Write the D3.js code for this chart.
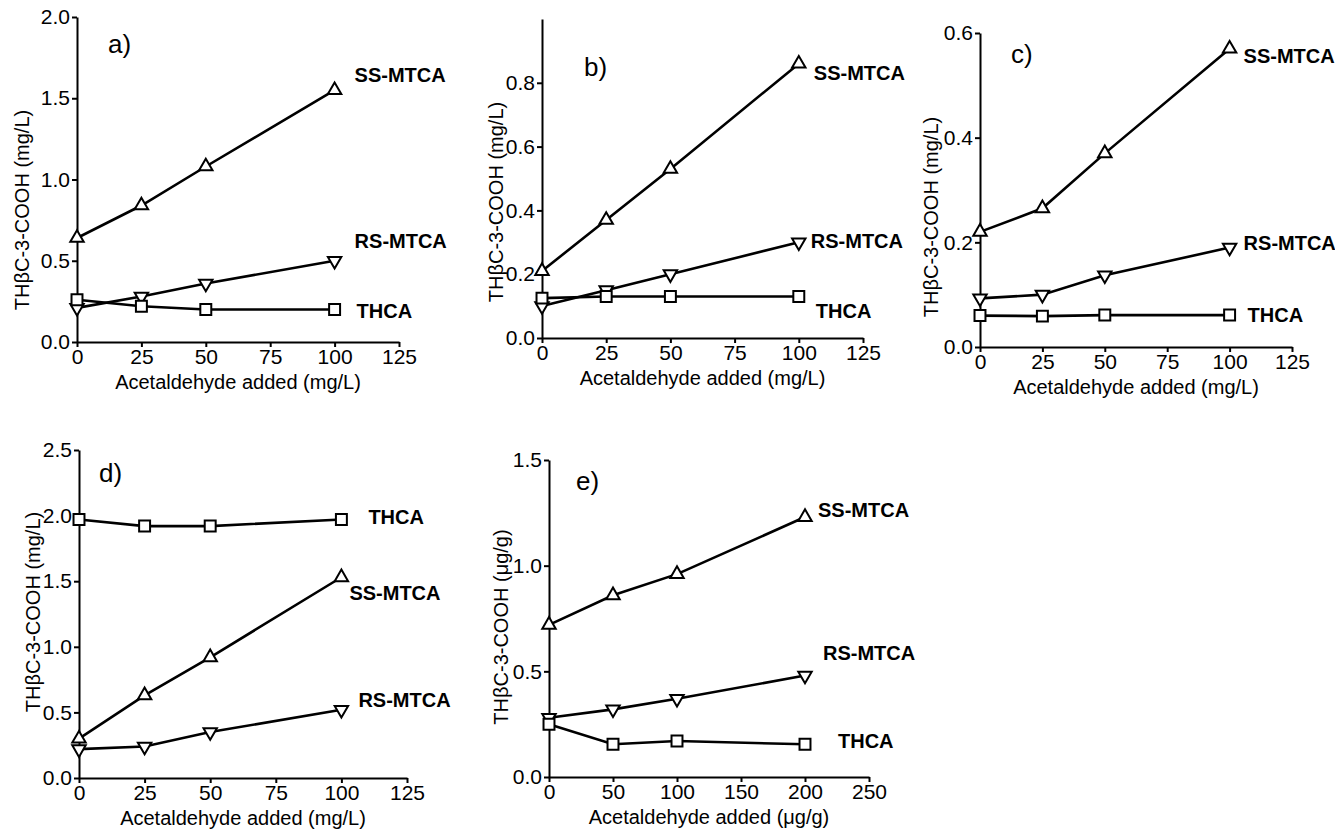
<!DOCTYPE html>
<html>
<head>
<meta charset="utf-8">
<script src="https://cdn.jsdelivr.net/npm/d3@7"></script>
<style>
  body { margin: 0; background: #fff; }
  svg text { font-family: "Liberation Sans", Arial, sans-serif; fill: #000; }
</style>
</head>
<body>
<div class="chart"></div>
<script>
'use strict';

/* ---- data ---- */
var doseMgL = [0, 25, 50, 100];
var doseUgG = [0, 50, 100, 200];

var ssA = [0.64, 0.84, 1.08, 1.55];
var rsA = [0.21, 0.28, 0.36, 0.50];
var thA = [0.26, 0.22, 0.20, 0.20];

var ssB = [0.21, 0.37, 0.53, 0.86];
var rsB = [0.10, 0.15, 0.20, 0.30];
var thB = [0.125, 0.13, 0.13, 0.13];

var ssC = [0.22, 0.265, 0.37, 0.57];
var rsC = [0.093, 0.10, 0.137, 0.19];
var thC = [0.060, 0.059, 0.061, 0.061];

var ssD = [0.30, 0.63, 0.92, 1.53];
var rsD = [0.22, 0.24, 0.35, 0.52];
var thD = [1.97, 1.92, 1.92, 1.97];

var ssE = [0.72, 0.86, 0.96, 1.23];
var rsE = [0.28, 0.32, 0.37, 0.48];
var thE = [0.25, 0.155, 0.17, 0.155];

var seriesNames = ['SS-MTCA', 'RS-MTCA', 'THCA'];
var panelTags = ['a)', 'b)', 'c)', 'd)', 'e)'];

var xTicksMg = [0, 25, 50, 75, 100, 125];
var xTicksUg = [0, 50, 100, 150, 200, 250];
var yTicksA = [0, 0.5, 1.0, 1.5, 2.0];
var yTicksB = [0, 0.2, 0.4, 0.6, 0.8];
var yTicksC = [0, 0.2, 0.4, 0.6];
var yTicksD = [0, 0.5, 1.0, 1.5, 2.0, 2.5];
var yTicksE = [0, 0.5, 1.0, 1.5];

var xTitleMg = 'Acetaldehyde added (mg/L)';
var xTitleUg = 'Acetaldehyde added (\u03bcg/g)';
var yTitleMg = 'TH\u03b2C-3-COOH (mg/L)';
var yTitleUg = 'TH\u03b2C-3-COOH (\u03bcg/g)';

/* ---- panels (layout kept apart from values) ---- */
var panels = [
  { tag: 0, x: doseMgL, ys: [ssA, rsA, thA], xMax: 125, yMax: 2.0, xt: xTicksMg, yt: yTicksA,
    xTitle: xTitleMg, yTitle: yTitleMg,
    box: [77, 399, 17, 342], tagAt: [108, 53], yTitleAt: [22, 210],
    lab: [[20, -8], [20, -13], [22, 8]] },
  { tag: 1, x: doseMgL, ys: [ssB, rsB, thB], xMax: 125, yMax: 1.0, xt: xTicksMg, yt: yTicksB,
    xTitle: xTitleMg, yTitle: yTitleMg,
    box: [542, 863, 19, 338], tagAt: [584, 76], yTitleAt: [496, 202],
    lab: [[15, 16], [12, 6], [17, 21]] },
  { tag: 2, x: doseMgL, ys: [ssC, rsC, thC], xMax: 125, yMax: 0.6, xt: xTicksMg, yt: yTicksC,
    xTitle: xTitleMg, yTitle: yTitleMg,
    box: [980, 1292, 33, 347], tagAt: [1011, 63], yTitleAt: [931, 217],
    lab: [[14, 14], [14, 2], [18, 7]] },
  { tag: 3, x: doseMgL, ys: [ssD, rsD, thD], xMax: 125, yMax: 2.5, xt: xTicksMg, yt: yTicksD,
    xTitle: xTitleMg, yTitle: yTitleMg,
    box: [79, 407, 450, 778], tagAt: [99, 482], yTitleAt: [33, 612],
    lab: [[8, 23], [17, -3], [27, 4]] },
  { tag: 4, x: doseUgG, ys: [ssE, rsE, thE], xMax: 250, yMax: 1.5, xt: xTicksUg, yt: yTicksE,
    xTitle: xTitleUg, yTitle: yTitleUg,
    box: [549, 869, 460, 777], tagAt: [576, 490], yTitleAt: [501, 627],
    lab: [[13, 0], [18, -16], [33, 4]] }
];

var width = 1335, height = 836;
var svg = d3.select('.chart').append('svg')
  .attr('width', width)
  .attr('height', height);

// up triangle, down triangle, square
var symbols = [
  d3.symbol().type(d3.symbolTriangle).size(78),
  d3.symbol().type(d3.symbolTriangle).size(78),
  d3.symbol().type(d3.symbolSquare).size(120)
];
var rotations = [0, 180, 0];

panels.forEach(function(p) {
  var b = p.box;
  var x = d3.scaleLinear().domain([0, p.xMax]).range([b[0], b[1]]);
  var y = d3.scaleLinear().domain([0, p.yMax]).range([b[3], b[2]]);
  var g = svg.append('g');

  // axes
  var xAxis = d3.axisBottom(x).tickValues(p.xt).tickSize(5).tickSizeOuter(0)
    .tickPadding(2).tickFormat(d3.format('d'));
  var yAxis = d3.axisLeft(y).tickValues(p.yt).tickSize(5).tickSizeOuter(0)
    .tickPadding(2).tickFormat(d3.format('.1f'));

  g.append('g').attr('transform', 'translate(0,' + b[3] + ')').call(xAxis);
  g.append('g').attr('transform', 'translate(' + b[0] + ',0)').call(yAxis);
  g.selectAll('.domain').attr('stroke', '#000').attr('stroke-width', 2);
  g.selectAll('.tick line').attr('stroke', '#000').attr('stroke-width', 2);
  g.selectAll('.tick text').style('font-size', '21px').attr('fill', '#000');

  // titles
  g.append('text')
    .attr('x', (b[0] + b[1]) / 2).attr('y', b[3] + 47)
    .attr('text-anchor', 'middle').style('font-size', '20px')
    .text(p.xTitle);
  g.append('text')
    .attr('transform', 'translate(' + p.yTitleAt[0] + ',' + p.yTitleAt[1] + ') rotate(-90)')
    .attr('text-anchor', 'middle').attr('dy', '0.35em').style('font-size', '20px')
    .text(p.yTitle);
  g.append('text')
    .attr('x', p.tagAt[0]).attr('y', p.tagAt[1])
    .style('font-size', '26px')
    .text(panelTags[p.tag]);

  var line = d3.line()
    .x(function(d) { return x(d[0]); })
    .y(function(d) { return y(d[1]); });

  p.ys.forEach(function(vals, si) {
    var pts = p.x.map(function(v, i) { return [v, vals[i]]; });
    g.append('path')
      .datum(pts)
      .attr('fill', 'none')
      .attr('stroke', '#000')
      .attr('stroke-width', 2.6)
      .attr('d', line);

    g.selectAll(null)
      .data(pts).enter()
      .append('path')
        .attr('d', symbols[si])
        .attr('transform', function(d) {
          return 'translate(' + x(d[0]) + ',' + y(d[1]) + ') rotate(' + rotations[si] + ')';
        })
        .attr('fill', '#fff')
        .attr('stroke', '#000')
        .attr('stroke-width', 2);

    var last = pts[pts.length - 1];
    g.append('text')
      .attr('x', x(last[0]) + p.lab[si][0])
      .attr('y', y(last[1]) + p.lab[si][1])
      .style('font-size', '20px')
      .style('font-weight', 'bold')
      .text(seriesNames[si]);
  });
});
</script>
</body>
</html>
